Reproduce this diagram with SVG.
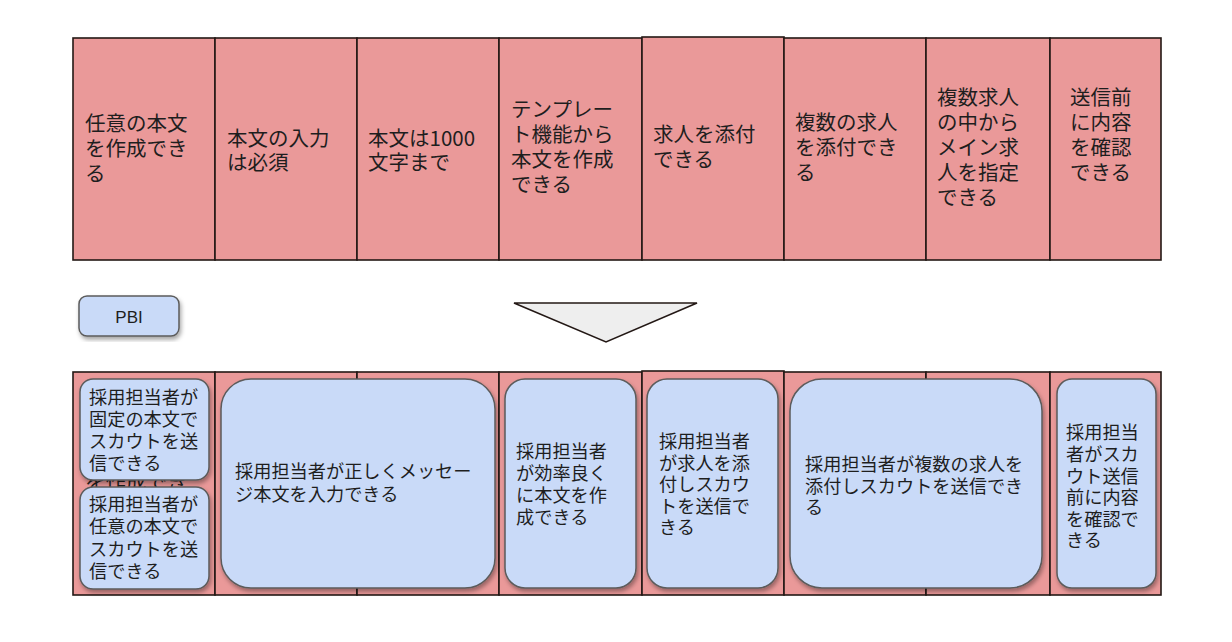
<svg xmlns="http://www.w3.org/2000/svg" width="1232" height="642" viewBox="0 0 1232 642">
<defs>
<filter id="sh" x="-10%" y="-10%" width="125%" height="125%">
<feDropShadow dx="1.5" dy="3" stdDeviation="2" flood-color="#000" flood-opacity="0.35"/>
</filter>
<style>
.req{fill:#EA9999;stroke:#231815;stroke-width:1.6}
.pbi{fill:#C9DAF8;stroke:#5B5B5B;stroke-width:1.5;filter:url(#sh)}
.t{font-family:"Noto Sans CJK JP","Liberation Sans",sans-serif;fill:#1E1E1E}
.t20{font-size:20.5px}
.t18{font-size:18.2px}
.lat{font-family:"Liberation Sans","Noto Sans CJK JP",sans-serif;font-size:17px;fill:#1E1E1E}
</style>
</defs>
<rect width="1232" height="642" fill="#FFFFFF"/>

<!-- top row requirements -->
<g id="req1"><rect class="req" x="73" y="38" width="142" height="222"/>
<text class="t t20"><tspan x="85" y="131">任意の本文</tspan><tspan x="85" y="156">を作成でき</tspan><tspan x="85" y="181">る</tspan></text></g>
<g id="req2"><rect class="req" x="215" y="38" width="142" height="222"/>
<text class="t t20"><tspan x="227" y="146">本文の入力</tspan><tspan x="227" y="170">は必須</tspan></text></g>
<g id="req3"><rect class="req" x="357" y="38" width="142" height="222"/>
<text class="t t20"><tspan x="368" y="146">本文は1000</tspan><tspan x="368" y="170">文字まで</tspan></text></g>
<g id="req4"><rect class="req" x="499" y="38" width="143" height="222"/>
<text class="t t20"><tspan x="511" y="117">テンプレー</tspan><tspan x="511" y="142">ト機能から</tspan><tspan x="511" y="167">本文を作成</tspan><tspan x="511" y="192">できる</tspan></text></g>
<g id="req5"><rect class="req" x="642" y="37" width="142" height="223"/>
<text class="t t20"><tspan x="653" y="142">求人を添付</tspan><tspan x="653" y="167">できる</tspan></text></g>
<g id="req6"><rect class="req" x="784" y="38" width="142" height="222"/>
<text class="t t20"><tspan x="795" y="130">複数の求人</tspan><tspan x="795" y="155">を添付でき</tspan><tspan x="795" y="180">る</tspan></text></g>
<g id="req7"><rect class="req" x="926" y="38" width="124" height="222"/>
<text class="t t20"><tspan x="937" y="105">複数求人</tspan><tspan x="937" y="130">の中から</tspan><tspan x="937" y="155">メイン求</tspan><tspan x="937" y="180">人を指定</tspan><tspan x="937" y="205">できる</tspan></text></g>
<g id="req8"><rect class="req" x="1050" y="38" width="111" height="222"/>
<text class="t t20"><tspan x="1070" y="105">送信前</tspan><tspan x="1070" y="130">に内容</tspan><tspan x="1070" y="155">を確認</tspan><tspan x="1070" y="180">できる</tspan></text></g>

<!-- legend -->
<g id="pbi-legend"><rect class="pbi" x="79" y="296" width="100" height="40" rx="8"/>
<text class="lat" x="129" y="323" text-anchor="middle">PBI</text></g>

<!-- arrow -->
<g id="arrow"><polygon points="514,303 697,303 606,342" fill="#EEEEEE" stroke="#231815" stroke-width="1.6"/></g>

<!-- bottom row requirement background -->
<g id="row2">
<rect class="req" x="73" y="372" width="142" height="223"/>
<text class="t t20" x="85" y="490">を作成でき</text>
<rect class="req" x="215" y="372" width="142" height="223"/>
<rect class="req" x="357" y="372" width="142" height="223"/>
<rect class="req" x="499" y="372" width="143" height="223"/>
<rect class="req" x="642" y="371" width="142" height="224"/>
<rect class="req" x="784" y="372" width="142" height="223"/>
<rect class="req" x="926" y="372" width="124" height="223"/>
<rect class="req" x="1050" y="372" width="111" height="223"/>
</g>

<!-- PBIs -->
<g id="pbi1"><rect class="pbi" x="80" y="379" width="129" height="101" rx="13"/>
<text class="t t18"><tspan x="89" y="404">採用担当者が</tspan><tspan x="89" y="426">固定の本文で</tspan><tspan x="89" y="448">スカウトを送</tspan><tspan x="89" y="470">信できる</tspan></text></g>
<g id="pbi2"><rect class="pbi" x="80" y="487" width="129" height="102" rx="13"/>
<text class="t t18"><tspan x="89" y="511">採用担当者が</tspan><tspan x="89" y="533">任意の本文で</tspan><tspan x="89" y="556">スカウトを送</tspan><tspan x="89" y="578">信できる</tspan></text></g>
<g id="pbi3"><rect class="pbi" x="221" y="379" width="274" height="209" rx="30"/>
<text class="t t18"><tspan x="235" y="478">採用担当者が正しくメッセー</tspan><tspan x="235" y="501">ジ本文を入力できる</tspan></text></g>
<g id="pbi4"><rect class="pbi" x="505" y="379" width="131" height="209" rx="20"/>
<text class="t t18"><tspan x="516" y="458">採用担当者</tspan><tspan x="516" y="480">が効率良く</tspan><tspan x="516" y="502">に本文を作</tspan><tspan x="516" y="524">成できる</tspan></text></g>
<g id="pbi5"><rect class="pbi" x="647" y="379" width="131" height="209" rx="20"/>
<text class="t t18"><tspan x="659" y="448">採用担当者</tspan><tspan x="659" y="470">が求人を添</tspan><tspan x="659" y="491">付しスカウ</tspan><tspan x="659" y="513">トを送信で</tspan><tspan x="659" y="534">きる</tspan></text></g>
<g id="pbi6"><rect class="pbi" x="790" y="379" width="252" height="209" rx="32"/>
<text class="t t18"><tspan x="805" y="471">採用担当者が複数の求人を</tspan><tspan x="805" y="493">添付しスカウトを送信でき</tspan><tspan x="805" y="514">る</tspan></text></g>
<g id="pbi7"><rect class="pbi" x="1057" y="379" width="99" height="209" rx="15"/>
<text class="t t18"><tspan x="1066" y="439">採用担当</tspan><tspan x="1066" y="461">者がスカ</tspan><tspan x="1066" y="483">ウト送信</tspan><tspan x="1066" y="504">前に内容</tspan><tspan x="1066" y="526">を確認で</tspan><tspan x="1066" y="547">きる</tspan></text></g>
</svg>
